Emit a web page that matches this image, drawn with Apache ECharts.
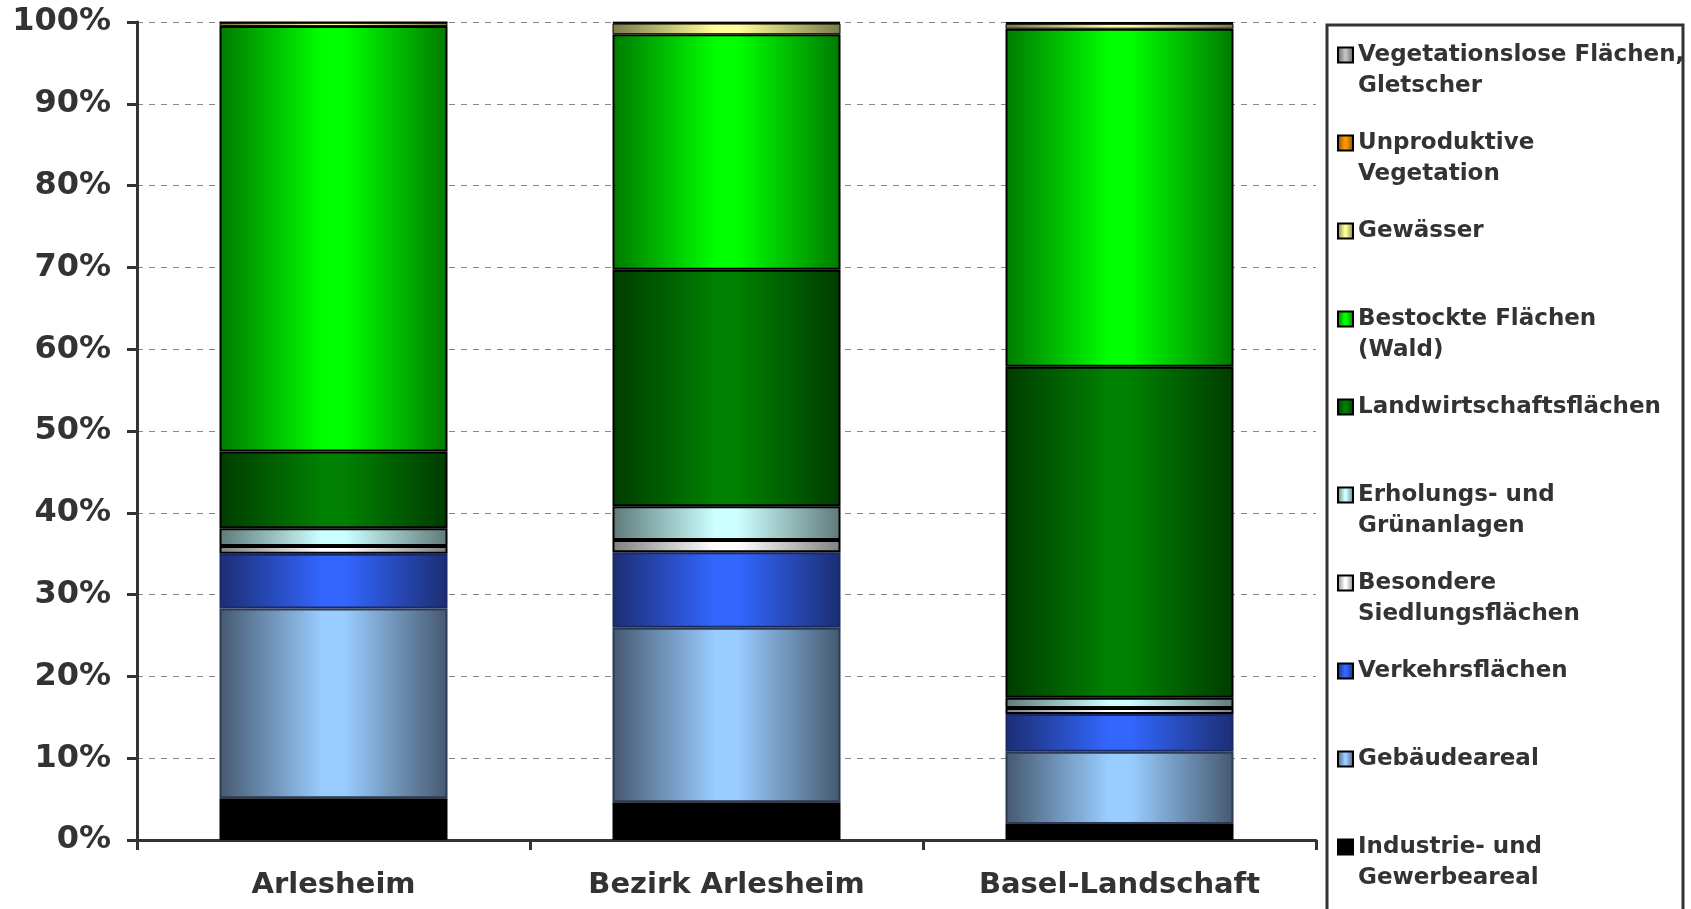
<!DOCTYPE html>
<html>
<head>
<meta charset="utf-8">
<script src="https://cdn.jsdelivr.net/npm/echarts@6/dist/echarts.min.js"></script>
<style>
  html, body { margin: 0; padding: 0; background: #fff; }
  #chart { width: 1691px; height: 909px; }
</style>
</head>
<body>
<div id="chart"></div>
<script>
// Anteile der Flächen in %
const categories = ['Arlesheim', 'Bezirk Arlesheim', 'Basel-Landschaft']

const seriesNames = [
  'Industrie- und Gewerbeareal',
  'Gebäudeareal',
  'Verkehrsflächen',
  'Besondere Siedlungsflächen',
  'Erholungs- und Grünanlagen',
  'Landwirtschaftsflächen',
  'Bestockte Flächen (Wald)',
  'Gewässer',
  'Unproduktive Vegetation',
  'Vegetationslose Flächen, Gletscher'
]

// legend labels as broken in the original
const legendLabels = [
  'Industrie- und\nGewerbeareal',
  'Gebäudeareal',
  'Verkehrsflächen',
  'Besondere\nSiedlungsflächen',
  'Erholungs- und\nGrünanlagen',
  'Landwirtschaftsflächen',
  'Bestockte Flächen\n(Wald)',
  'Gewässer',
  'Unproduktive\nVegetation',
  'Vegetationslose Flächen,\nGletscher'
]

const industrie = [5.1, 4.6, 1.96]
const gebaeude = [23.2, 21.35, 8.83]
const verkehr = [6.7, 9.24, 4.61]
const besondere = [0.95, 1.47, 0.73]
const erholung = [2.15, 4.15, 1.26]
const landwirtschaft = [9.4, 28.9, 40.45]
const wald = [52.0, 28.8, 41.34]
const gewaesser = [0.4, 1.3, 0.6]
const unproduktiv = [0.05, 0.1, 0.1]
const vegetationslos = [0.05, 0.1, 0.12]

const values = [industrie, gebaeude, verkehr, besondere, erholung,
  landwirtschaft, wald, gewaesser, unproduktiv, vegetationslos]

// [dark edge, light centre, border]
const colors = [
  ['#000000', '#000000', '#000000'],
  ['#46596f', '#99ccff', '#2b3a55'],
  ['#1c2e73', '#3366ff', '#1a2a66'],
  ['#808080', '#ffffff', '#000000'],
  ['#5f7a7a', '#ccffff', '#000000'],
  ['#003c00', '#008000', '#000000'],
  ['#007a00', '#00ff00', '#000000'],
  ['#7a7a4a', '#ffff99', '#000000'],
  ['#7a4a00', '#ff9900', '#000000'],
  ['#5c5c5c', '#c0c0c0', '#000000']
]

const font = 'DejaVu Sans'
const textColor = '#333'

function grad(dark, light) {
  return new echarts.graphic.LinearGradient(0, 0, 1, 0, [
    { offset: 0, color: dark },
    { offset: 0.45, color: light },
    { offset: 0.55, color: light },
    { offset: 1, color: dark }
  ])
}

const series = seriesNames.map((name, i) => ({
  name: name,
  type: 'bar',
  stack: 'total',
  barWidth: 228,
  data: values[i],
  itemStyle: {
    color: grad(colors[i][0], colors[i][1]),
    borderColor: colors[i][2],
    borderWidth: i >= 7 ? 1 : 2
  },
  emphasis: { disabled: true }
}))

// one legend block per entry, top entry first.
// two-line labels get an empty first line so the marker sits on line one
const lineH = 31
const legends = []
for (let k = 0; k < 10; k++) {
  const idx = 9 - k
  const twoLines = legendLabels[idx].indexOf('\n') >= 0
  const centre = 55 + 88 * k
  legends.push({
    data: [seriesNames[idx]],
    orient: 'vertical',
    left: 1337,
    top: twoLines ? centre - 46.5 : centre - 15.5,
    padding: 0,
    icon: 'rect',
    itemWidth: 15,
    itemHeight: 15,
    itemStyle: { borderColor: '#000', borderWidth: 2 },
    selectedMode: false,
    formatter: () => (twoLines ? ' \n' : '') + legendLabels[idx],
    textStyle: {
      fontFamily: font,
      fontWeight: 'bold',
      fontSize: 23,
      color: textColor,
      lineHeight: lineH
    }
  })
}

const chart = echarts.init(document.getElementById('chart'))
chart.setOption({
  animation: false,
  backgroundColor: '#fff',
  legend: legends,
  graphic: [
    {
      type: 'rect',
      shape: { x: 1327, y: 25, width: 356, height: 900 },
      style: { fill: 'none', stroke: '#333', lineWidth: 3 },
      silent: true
    }
  ],
  grid: {
    left: 137,
    right: 375,
    top: 22,
    bottom: 69
  },
  xAxis: {
    type: 'category',
    data: categories,
    axisLine: { lineStyle: { color: '#333', width: 3 } },
    axisTick: { show: true, length: 10, lineStyle: { color: '#333', width: 3 } },
    axisLabel: {
      margin: 31,
      fontFamily: font,
      fontWeight: 'bold',
      fontSize: 29,
      color: textColor
    }
  },
  yAxis: {
    type: 'value',
    min: 0,
    max: 100,
    interval: 10,
    axisLine: { show: true, lineStyle: { color: '#333', width: 3 } },
    axisTick: { show: true, length: 10, lineStyle: { color: '#333', width: 3 } },
    axisLabel: {
      formatter: '{value}%',
      margin: 26,
      fontFamily: font,
      fontWeight: 'bold',
      fontSize: 32,
      color: textColor
    },
    splitLine: {
      show: true,
      lineStyle: { color: '#888', width: 1, type: [6, 6] }
    }
  },
  series: series
})
</script>
</body>
</html>
